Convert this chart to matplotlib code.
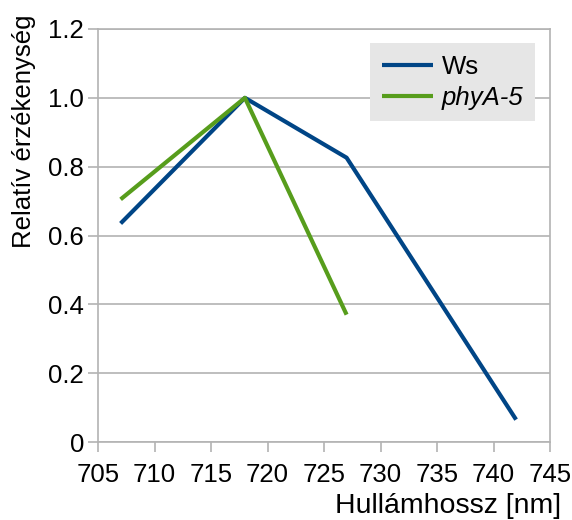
import matplotlib
matplotlib.use("Agg")
import matplotlib.pyplot as plt

plt.rcParams['font.family'] = ['Liberation Sans', 'DejaVu Sans']

# Spectral sensitivity data
ws_wavelength = [707, 718, 727, 742]
ws_values = [0.635, 1.0, 0.826, 0.065]
phya_wavelength = [707, 718, 727]
phya_values = [0.705, 1.0, 0.37]

x_ticks = [705, 710, 715, 720, 725, 730, 735, 740, 745]
y_ticks = [0, 0.2, 0.4, 0.6, 0.8, 1.0, 1.2]
y_tick_labels = ['0', '0.2', '0.4', '0.6', '0.8', '1.0', '1.2']

blue = '#004586'
green = '#579d1c'
grid_grey = '#b3b3b3'
fs = 18.5

fig = plt.figure(figsize=(5.72, 5.2), dpi=100)
ax = fig.add_axes([98/572, 1 - 442/520, (550 - 98)/572, (442 - 29)/520])

ax.plot(ws_wavelength, ws_values, color=blue, lw=3, label='Ws', solid_capstyle='butt')
ax.plot(phya_wavelength, phya_values, color=green, lw=3, label='phyA-5', solid_capstyle='butt')

ax.set_xlim(705, 745)
ax.set_ylim(0, 1.2)
ax.set_xticks(x_ticks)
ax.set_yticks(y_ticks)
ax.set_yticklabels(y_tick_labels)
ax.yaxis.grid(True, color=grid_grey, lw=1.2)
ax.set_axisbelow(True)
for s in ax.spines.values():
    s.set_color(grid_grey)
    s.set_linewidth(1.2)
ax.tick_params(axis='both', colors=grid_grey, labelcolor='black', labelsize=fs,
               length=7, width=1.2)
ax.tick_params(axis='x', pad=8)
ax.tick_params(axis='y', pad=3)

leg = ax.legend(loc='upper left', bbox_to_anchor=(370/572, 1 - 43/520),
                bbox_transform=fig.transFigure, fontsize=fs, frameon=True,
                fancybox=False, handlelength=2.0, handletextpad=0.35,
                borderpad=0.45, labelspacing=0.27, borderaxespad=0)
leg.get_frame().set_facecolor('#e6e6e6')
leg.get_frame().set_edgecolor('none')
leg.get_frame().set_alpha(1)
leg.get_texts()[1].set_style('italic')

fig.text(24/572, 1 - 131/520, 'Relatív érzékenység', rotation=90,
         ha='center', va='center', fontsize=fs)
fig.text(561/572, 1 - 513/520, 'Hullámhossz [nm]', ha='right', va='baseline',
         fontsize=20.5)

fig.savefig('out.png', dpi=100)
